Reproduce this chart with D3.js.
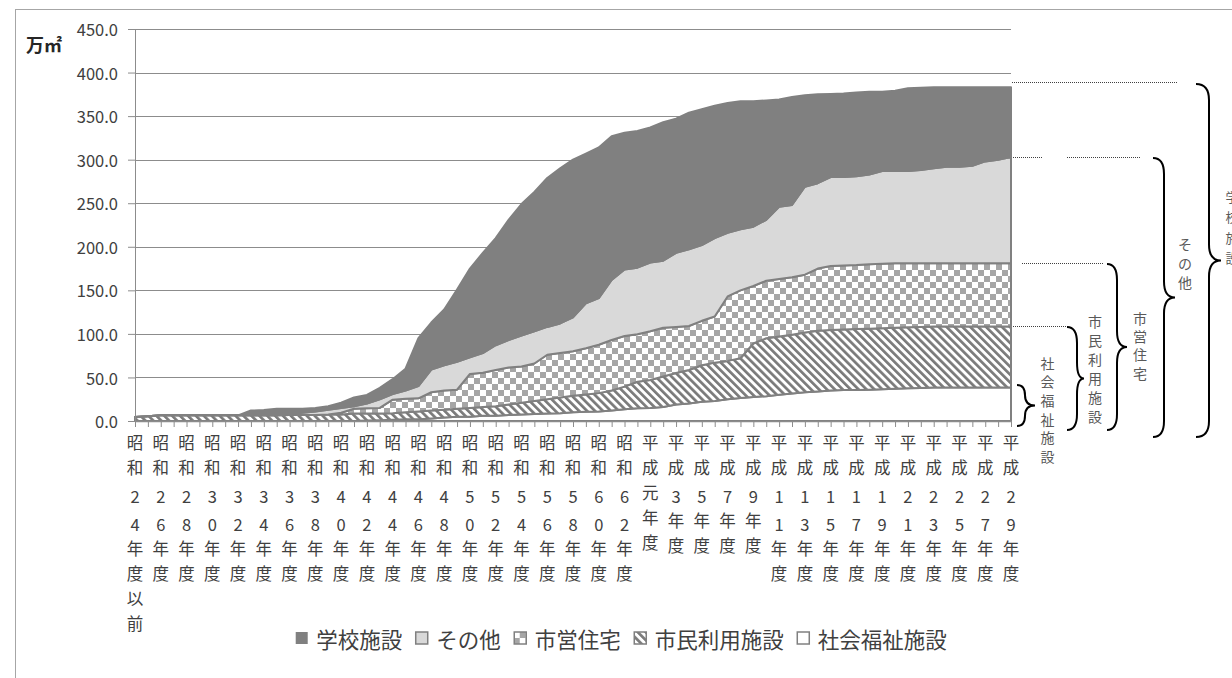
<!DOCTYPE html>
<html>
<head>
<meta charset="utf-8">
<script src="https://cdn.jsdelivr.net/npm/d3@7"></script>
<style>
    body { margin: 0; background: #fff; }
    svg { display: block; }
    text { font-family: "Noto Sans CJK JP", "Noto Sans", sans-serif; }
</style>
</head>
<body>
<svg id="chart" width="1232" height="678"></svg>
<script>
"use strict";

// categories (年度)
const categories = [
    "昭和24年度以前", "昭和25年度", "昭和26年度", "昭和27年度", "昭和28年度", "昭和29年度", "昭和30年度",
    "昭和31年度", "昭和32年度", "昭和33年度", "昭和34年度", "昭和35年度", "昭和36年度", "昭和37年度",
    "昭和38年度", "昭和39年度", "昭和40年度", "昭和41年度", "昭和42年度", "昭和43年度", "昭和44年度",
    "昭和45年度", "昭和46年度", "昭和47年度", "昭和48年度", "昭和49年度", "昭和50年度", "昭和51年度",
    "昭和52年度", "昭和53年度", "昭和54年度", "昭和55年度", "昭和56年度", "昭和57年度", "昭和58年度",
    "昭和59年度", "昭和60年度", "昭和61年度", "昭和62年度", "昭和63年度", "平成元年度", "平成2年度",
    "平成3年度", "平成4年度", "平成5年度", "平成6年度", "平成7年度", "平成8年度", "平成9年度",
    "平成10年度", "平成11年度", "平成12年度", "平成13年度", "平成14年度", "平成15年度", "平成16年度",
    "平成17年度", "平成18年度", "平成19年度", "平成20年度", "平成21年度", "平成22年度", "平成23年度",
    "平成24年度", "平成25年度", "平成26年度", "平成27年度", "平成28年度", "平成29年度"
];

// series values (万㎡), stacked from the bottom
const welfare = [
    0, 0, 0, 0, 0, 0, 0, 0, 0, 0, 0, 0, 0, 0, 0, 0, 0, 0, 0.5, 1,
    1.5, 2, 2, 3, 4, 5, 5, 6, 6, 7, 7.5, 8, 8.5, 9, 10, 10.5, 11, 12, 13.5, 14.5,
    15, 16, 19, 20, 22, 23, 25, 26.5, 27.5, 28.5, 30, 31.5, 33, 34, 35, 35.5, 35.5, 36, 36.5, 37,
    37.5, 38, 38.5, 38.5, 38.5, 38.5, 38.5, 38.5, 38.5
];
const civic = [
    4.5, 5.5, 6.5, 6.5, 6.5, 6.5, 6.5, 6.5, 6.5, 6.5, 6.5, 6.5, 7, 7, 7, 7.5, 7.5, 8.5, 8, 7.5,
    7.5, 8, 9, 9, 9, 9, 10, 10, 11, 12, 13.5, 15, 16.5, 18, 19, 20, 21, 23, 26, 30.5,
    32, 35, 36, 38.5, 42, 44, 44, 45.5, 61.5, 66.5, 67, 67.5, 68.5, 69.5, 69.5, 69.5, 70, 70, 70, 70,
    70, 70, 70, 70, 70, 70, 70, 70, 70
];
const housing = [
    0, 0, 0, 0, 0, 0, 0, 0, 0, 0, 0, 0, 0, 0, 0, 0, 2, 5.5, 6, 6.5,
    15.5, 15.5, 15, 21, 22, 22, 39, 39.5, 41.5, 42.5, 41.5, 43, 51, 51, 51, 53, 55.5, 58, 58, 54.5,
    56, 56, 53, 50.5, 51, 53, 74, 78, 66, 66, 66, 66, 66.5, 71.5, 73.5, 73.5, 73.5, 74, 74, 74,
    73.5, 73, 72.5, 72.5, 72.5, 72.5, 72.5, 72.5, 72.5
];
const other = [
    0, 0, 0, 0, 0, 0, 0, 0, 0, 0, 0, 0, 1, 2.5, 4, 5.5, 5.5, 3, 5.5, 10,
    6.5, 9.5, 14, 26, 29, 32, 19, 22.5, 28.5, 31.5, 35.5, 37, 32, 34, 39, 51.5, 53.5, 69, 76.5, 76.5,
    79, 77, 85, 88, 87, 90, 73, 70, 68, 70, 83, 83, 101, 98, 102, 101.5, 102, 103, 106.5, 106,
    106, 107, 109, 111, 111, 112, 117, 119, 122
];
const school = [
    0, 0, 0, 0, 0, 0, 0, 0, 0, 5.5, 6, 7.5, 6, 4.5, 4, 4, 6, 10, 10, 13,
    17, 25, 55, 54, 64, 83, 102, 115, 123, 138, 151, 160, 171, 178, 181, 172, 173, 165, 157, 157,
    155, 159, 154, 157, 156, 152, 149, 147, 144, 137, 123, 124, 105, 102, 95.5, 96, 96, 95, 91, 92,
    95, 94.5, 93, 91, 91, 90, 85, 83, 80
];

// series names, bottom to top, and the legend order
const seriesNames = ["社会福祉施設", "市民利用施設", "市営住宅", "その他", "学校施設"];
const seriesValues = [welfare, civic, housing, other, school];
const legendNames = ["学校施設", "その他", "市営住宅", "市民利用施設", "社会福祉施設"];

// y ticks
const yTicks = [0, 50, 100, 150, 200, 250, 300, 350, 400, 450];



// settings
const plot = { left: 135, right: 1011, top: 29, bottom: 421 };
const grey = "#808080",
      lineGrey = "#8c8c8c",
      textColor = "#404040";

const fills = {
    "社会福祉施設": "#ffffff",
    "市民利用施設": "url(#hatch)",
    "市営住宅": "url(#checker)",
    "その他": "#d9d9d9",
    "学校施設": grey
};



// data table for the stack
let table = categories.map((c, i) => {
    let row = { cat: c };
    seriesNames.forEach((s, k) => row[s] = seriesValues[k][i]);
    return row;
});
let stacked = d3.stack().keys(seriesNames)(table);



let svg = d3.select("#chart");



// patterns
let defs = svg.append("defs");
let checker = defs.append("pattern")
    .attr("id", "checker")
    .attr("patternUnits", "userSpaceOnUse")
    .attr("width", 12)
    .attr("height", 12);
checker.append("rect").attr("width", 12).attr("height", 12).attr("fill", "#fff");
checker.append("rect").attr("width", 6).attr("height", 6).attr("fill", "#a6a6a6");
checker.append("rect").attr("x", 6).attr("y", 6).attr("width", 6).attr("height", 6).attr("fill", "#a6a6a6");

let hatch = defs.append("pattern")
    .attr("id", "hatch")
    .attr("patternUnits", "userSpaceOnUse")
    .attr("width", 5.6)
    .attr("height", 5.6)
    .attr("patternTransform", "rotate(-45)");
hatch.append("rect").attr("width", 5.6).attr("height", 5.6).attr("fill", "#fff");
hatch.append("rect").attr("width", 2.7).attr("height", 5.6).attr("fill", "#7a7a7a");



// outer frame
svg.append("rect")
    .attr("x", 15.5)
    .attr("y", 9.5)
    .attr("width", 1260)
    .attr("height", 720)
    .attr("fill", "none")
    .attr("stroke", "#a6a6a6");



// scales
let scaleX = d3.scalePoint()
    .domain(categories)
    .range([plot.left, plot.right]);

let scaleY = d3.scaleLinear()
    .domain([0, 450])
    .range([plot.bottom, plot.top]);



// grid lines
svg.append("g")
    .attr("class", "grid")
    .selectAll("line")
    .data(yTicks.filter(t => t > 0))
    .enter()
    .append("line")
    .attr("x1", plot.left)
    .attr("x2", plot.right)
    .attr("y1", d => Math.round(scaleY(d)) + 0.5)
    .attr("y2", d => Math.round(scaleY(d)) + 0.5)
    .attr("stroke", lineGrey)
    .attr("stroke-width", 1);



// stacked areas
let area = d3.area()
    .x(d => scaleX(d.data.cat))
    .y0(d => scaleY(d[0]))
    .y1(d => scaleY(d[1]));

svg.append("g")
    .attr("class", "areas")
    .selectAll("path")
    .data(stacked)
    .enter()
    .append("path")
    .attr("d", area)
    .attr("fill", d => fills[d.key])
    .attr("stroke", grey)
    .attr("stroke-width", 2)
    .attr("stroke-linejoin", "round");



// y axis
let yAxis = svg.append("g")
    .attr("class", "y_axis")
    .attr("transform", `translate(${plot.left}, 0)`)
    .call(d3.axisLeft(scaleY)
        .tickValues(yTicks)
        .tickFormat(d3.format(".1f"))
        .tickSize(7)
        .tickSizeOuter(0)
        .tickPadding(10));
yAxis.selectAll("path, line").attr("stroke", lineGrey);
yAxis.selectAll("text")
    .attr("font-size", 16.5)
    .attr("fill", textColor)
    .attr("dy", "0.4em");

svg.append("text")
    .attr("x", 44)
    .attr("y", 52)
    .attr("text-anchor", "middle")
    .attr("font-size", 18)
    .attr("font-weight", "bold")
    .attr("fill", "#262626")
    .text("万㎡");



// x axis
let xAxis = svg.append("g")
    .attr("class", "x_axis")
    .attr("transform", `translate(0, ${plot.bottom})`)
    .call(d3.axisBottom(scaleX)
        .tickSize(6)
        .tickSizeOuter(0)
        .tickFormat(""));
xAxis.selectAll("path, line").attr("stroke", lineGrey);
xAxis.select("path.domain").attr("stroke-width", 1.5);



// x tick labels, written one character per row
function charGap(prevDigit, nextDigit) {
    if (prevDigit && nextDigit) return 28;
    if (prevDigit) return 24;
    if (nextDigit) return 29;
    return 25;
}

let tickLabels = svg.append("g").attr("class", "x_labels");
categories.forEach((c, i) => {
    if (i % 2 != 0) return;
    let chars = Array.from(c);
    let yPos = 442;
    let prev = null;
    chars.forEach(ch => {
        let isDigit = /[0-9]/.test(ch);
        if (prev !== null) yPos += charGap(prev, isDigit);
        tickLabels.append("text")
            .attr("x", scaleX(c))
            .attr("y", yPos)
            .attr("text-anchor", "middle")
            .attr("dominant-baseline", "central")
            .attr("font-size", 16.5)
            .attr("fill", textColor)
            .text(ch);
        prev = isDigit;
    });
});



// legend
let legend = svg.append("g").attr("class", "legend");
let legendX = 0;
legendNames.forEach(name => {
    let item = legend.append("g").attr("transform", `translate(${legendX}, 0)`);
    item.append("rect")
        .attr("x", 0.5)
        .attr("y", -6)
        .attr("width", 12)
        .attr("height", 12)
        .attr("fill", fills[name])
        .attr("stroke", name == "学校施設" ? "none" : grey)
        .attr("stroke-width", 1.5);
    let label = item.append("text")
        .attr("x", 21)
        .attr("y", 0)
        .attr("dominant-baseline", "central")
        .attr("font-size", 21.5)
        .attr("fill", textColor)
        .text(name);
    legendX += 21 + label.node().getComputedTextLength() + 13;
});
legendX -= 13;
legend.attr("transform", `translate(${621 - legendX / 2}, 638)`);



// annotations on the right: dotted leaders, braces and vertical labels
const leaders = [
    { y: 82.5, x1: 1012, x2: 1177 },
    { y: 157.5, x1: 1013, x2: 1042 },
    { y: 157.5, x1: 1067, x2: 1140 },
    { y: 263.5, x1: 1022, x2: 1103 },
    { y: 326.5, x1: 1013, x2: 1067 }
];
const braces = [
    { x0: 1196, xv: 1209, xt: 1221, top: 84, bot: 437 },
    { x0: 1153, xv: 1164, xt: 1175, top: 158, bot: 437 },
    { x0: 1107, xv: 1117, xt: 1127, top: 264, bot: 430 },
    { x0: 1067, xv: 1077, xt: 1084, top: 327, bot: 430 },
    { x0: 1017, xv: 1025, xt: 1035, top: 385, bot: 426 }
];
const braceLabels = [
    { text: "学校施設", x: 1232, y: 196, step: 20.5, size: 13 },
    { text: "その他", x: 1185, y: 244, step: 19, size: 14 },
    { text: "市営住宅", x: 1140, y: 318, step: 18.2, size: 14 },
    { text: "市民利用施設", x: 1095, y: 321, step: 19, size: 14 },
    { text: "社会福祉施設", x: 1047.5, y: 362.5, step: 18.7, size: 14 }
];

let notes = svg.append("g").attr("class", "notes");

notes.selectAll("line")
    .data(leaders)
    .enter()
    .append("line")
    .attr("x1", d => d.x1)
    .attr("x2", d => d.x2)
    .attr("y1", d => d.y)
    .attr("y2", d => d.y)
    .attr("stroke", "#404040")
    .attr("stroke-width", 1)
    .attr("stroke-dasharray", "1,1");

function bracePath(b) {
    let mid = (b.top + b.bot) / 2;
    let r = Math.min(16, (b.bot - b.top) / 4);
    let p = d3.path();
    p.moveTo(b.x0, b.top);
    p.quadraticCurveTo(b.xv, b.top, b.xv, b.top + r);
    p.lineTo(b.xv, mid - r);
    p.quadraticCurveTo(b.xv, mid, b.xt, mid);
    p.quadraticCurveTo(b.xv, mid, b.xv, mid + r);
    p.lineTo(b.xv, b.bot - r);
    p.quadraticCurveTo(b.xv, b.bot, b.x0, b.bot);
    return p.toString();
}

notes.selectAll("path")
    .data(braces)
    .enter()
    .append("path")
    .attr("d", bracePath)
    .attr("fill", "none")
    .attr("stroke", "#000")
    .attr("stroke-width", 2);

braceLabels.forEach(l => {
    Array.from(l.text).forEach((ch, k) => {
        notes.append("text")
            .attr("x", l.x)
            .attr("y", l.y + k * l.step)
            .attr("text-anchor", "middle")
            .attr("dominant-baseline", "central")
            .attr("font-size", l.size)
            .attr("fill", "#595959")
            .text(ch);
    });
});
</script>
</body>
</html>
